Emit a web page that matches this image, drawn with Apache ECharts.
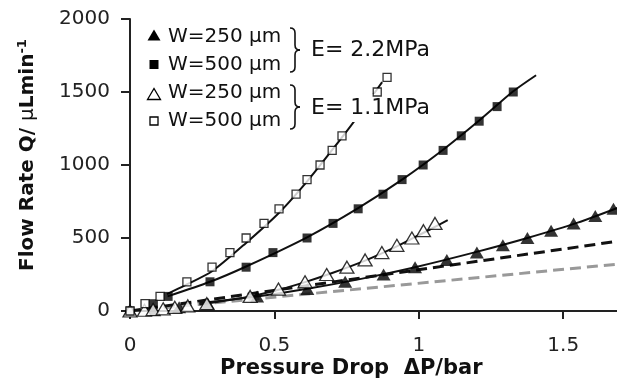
<!DOCTYPE html>
<html><head><meta charset="utf-8">
<script src="https://cdn.jsdelivr.net/npm/echarts@6/dist/echarts.min.js"></script>
<style>html,body{margin:0;padding:0;background:#fff}#c{width:617px;height:389px}</style>
</head><body><div id="c"></div>
<script>
// ---- data ----
// E = 2.2 MPa, W = 250 um (filled triangles)
const filledTriX = [0, 0.08, 0.17, 0.27, 0.44, 0.614, 0.745, 0.878, 0.987, 1.097, 1.201, 1.291, 1.376, 1.458, 1.536, 1.611, 1.674];
const filledTriY = [0, 10, 25, 50, 100, 150, 200, 250, 300, 350, 400, 450, 500, 550, 600, 650, 700];
// E = 2.2 MPa, W = 500 um (filled squares)
const filledSqX = [0, 0.081, 0.132, 0.277, 0.402, 0.495, 0.613, 0.703, 0.790, 0.876, 0.942, 1.015, 1.084, 1.147, 1.209, 1.271, 1.327];
const filledSqY = [0, 50, 100, 200, 300, 400, 500, 600, 700, 800, 900, 1000, 1100, 1200, 1300, 1400, 1500];
// E = 1.1 MPa, W = 250 um (open triangles)
const openTriX = [0, 0.05, 0.08, 0.115, 0.155, 0.2, 0.266, 0.416, 0.514, 0.606, 0.681, 0.751, 0.814, 0.872, 0.924, 0.976, 1.016, 1.056];
const openTriY = [0, 5, 10, 15, 25, 35, 50, 100, 150, 200, 250, 300, 350, 400, 450, 500, 550, 600];
// E = 1.1 MPa, W = 500 um (open squares)
const openSqX = [0, 0.052, 0.104, 0.197, 0.284, 0.346, 0.402, 0.464, 0.516, 0.575, 0.613, 0.658, 0.700, 0.734, 0.856, 0.890];
const openSqY = [0, 50, 100, 200, 300, 400, 500, 600, 700, 800, 900, 1000, 1100, 1200, 1500, 1600];

// fitted curves
const fitFilledTriX = [0.24, 0.44, 0.614, 0.8, 0.987, 1.2, 1.376, 1.55, 1.70];
const fitFilledTriY = [55, 100, 152, 220, 300, 405, 500, 605, 715];
const fitFilledSqX = [0.13, 0.277, 0.402, 0.613, 0.79, 0.942, 1.084, 1.209, 1.327, 1.406];
const fitFilledSqY = [100, 200, 305, 505, 705, 900, 1105, 1305, 1505, 1615];
const fitOpenTriX = [0.24, 0.416, 0.514, 0.606, 0.7, 0.814, 0.9, 0.976, 1.04, 1.1];
const fitOpenTriY = [45, 100, 145, 198, 260, 345, 420, 495, 560, 622];
const fitOpenSqX = [0.128, 0.19, 0.284, 0.40, 0.517, 0.617, 0.70, 0.769, 0.82, 0.873];
const fitOpenSqY = [116, 175, 272, 463, 675, 897, 1103, 1280, 1420, 1568];
// straight reference lines (dashed)
const dashBlackX = [0, 1.7];
const dashBlackY = [0, 481];
const dashGrayX = [0, 1.7];
const dashGrayY = [0, 323];

// text
const legendLabels = ['W=250 \u03bcm', 'W=500 \u03bcm', 'W=250 \u03bcm', 'W=500 \u03bcm'];
const groupLabels = ['E= 2.2MPa', 'E= 1.1MPa'];
const xTitle = 'Pressure Drop  \u0394P/bar';
const yTitleMain = 'Flow Rate Q/ ';
const yTitleMu = '\u03bc';
const yTitleUnit = 'Lmin';
const yTitleSup = '-1';

function pairs(xs, ys) { return xs.map((x, i) => [x, ys[i]]); }

const FONT = '"DejaVu Sans", "Liberation Sans", sans-serif';
const INK = '#111';

const chart = echarts.init(document.getElementById('c'), null, { renderer: 'canvas' });

function fitLine(xs, ys) {
  return {
    type: 'line', data: pairs(xs, ys), showSymbol: false, smooth: 0.25,
    lineStyle: { color: INK, width: 2 }, silent: true, z: 2
  };
}
function dashLine(xs, ys, color) {
  return {
    type: 'line', data: pairs(xs, ys), showSymbol: false,
    lineStyle: { color: color, width: 3, type: [11, 6] }, silent: true, z: 1
  };
}

// legend graphics
const rowsY = [37, 65, 93, 121];
const mx = 154;
function triPts(cx, cy, w, h) { return [[cx - w / 2, cy + h / 2], [cx + w / 2, cy + h / 2], [cx, cy - h / 2]]; }
function brace(x, y0, y1) {
  const ym = (y0 + y1) / 2, xm = x + 5, xt = x + 10;
  const st = { fill: null, stroke: INK, lineWidth: 1.6 };
  return [
    { type: 'bezierCurve', shape: { x1: x, y1: y0, cpx1: xm, cpy1: y0, x2: xm, y2: y0 + 5 }, style: st, z: 10 },
    { type: 'line', shape: { x1: xm, y1: y0 + 5, x2: xm, y2: ym - 5 }, style: st, z: 10 },
    { type: 'bezierCurve', shape: { x1: xm, y1: ym - 5, cpx1: xm, cpy1: ym, x2: xt, y2: ym }, style: st, z: 10 },
    { type: 'bezierCurve', shape: { x1: xt, y1: ym, cpx1: xm, cpy1: ym, x2: xm, y2: ym + 5 }, style: st, z: 10 },
    { type: 'line', shape: { x1: xm, y1: ym + 5, x2: xm, y2: y1 - 5 }, style: st, z: 10 },
    { type: 'bezierCurve', shape: { x1: xm, y1: y1 - 5, cpx1: xm, cpy1: y1, x2: x, y2: y1 }, style: st, z: 10 }
  ];
}

const graphics = [
  { type: 'polygon', shape: { points: triPts(mx, rowsY[0] - 2, 13, 11) }, style: { fill: '#000' }, z: 10 },
  { type: 'rect', shape: { x: mx - 4.5, y: rowsY[1] - 5, width: 9, height: 9 }, style: { fill: '#000' }, z: 10 },
  { type: 'polygon', shape: { points: triPts(mx, rowsY[2] + 1, 13, 11) }, style: { fill: '#fff', stroke: '#000', lineWidth: 1.3 }, z: 10 },
  { type: 'rect', shape: { x: mx - 4, y: rowsY[3] - 4, width: 8, height: 8 }, style: { fill: '#fff', stroke: '#000', lineWidth: 1.3 }, z: 10 },
  ...brace(290, 28, 72),
  ...brace(290, 85, 129),
  {
    type: 'text', x: 311, y: 50, z: 10,
    style: { text: groupLabels[0], fontSize: 22, fontFamily: FONT, fill: INK, align: 'left', verticalAlign: 'middle' }
  },
  {
    type: 'text', x: 309, y: 108, z: 3,
    style: { text: groupLabels[1], fontSize: 22, fontFamily: FONT, fill: INK, align: 'left', verticalAlign: 'middle',
      backgroundColor: '#fff', padding: [2, 2, 4, 2] }
  },
  {
    type: 'text', x: 220, y: 369, z: 10,
    style: { text: xTitle, fontSize: 21, fontWeight: 'bold', fontFamily: FONT, fill: INK, align: 'left', verticalAlign: 'middle' }
  },
  {
    type: 'text', x: 28, y: 155, rotation: Math.PI / 2, z: 10,
    style: {
      text: '{b|' + yTitleMain + '}{m|' + yTitleMu + '}{b|' + yTitleUnit + '}{s|' + yTitleSup + '}',
      align: 'center', verticalAlign: 'middle', fill: INK,
      rich: {
        b: { fontSize: 20, fontWeight: 'bold', fontFamily: FONT, fill: INK, lineHeight: 24 },
        m: { fontSize: 20, fontWeight: 'normal', fontFamily: FONT, fill: INK, lineHeight: 24 },
        s: { fontSize: 13, fontWeight: 'bold', fontFamily: FONT, fill: INK, lineHeight: 14, verticalAlign: 'top' }
      }
    }
  }
];
legendLabels.forEach((t, i) => {
  graphics.push({
    type: 'text', x: 168, y: rowsY[i], z: 10,
    style: { text: t, fontSize: 20, fontFamily: FONT, fill: INK, align: 'left', verticalAlign: 'middle' }
  });
});

const option = {
  backgroundColor: '#fff',
  animation: false,
  grid: { left: 130, top: 19, bottom: 78, right: -4, containLabel: false, outerBoundsMode: 'none' },
  xAxis: {
    type: 'value', min: 0, max: 1.7, interval: 0.5,
    axisLine: { show: true, onZero: false, lineStyle: { color: '#222', width: 2 } },
    axisTick: { show: true, length: 8, lineStyle: { color: '#222', width: 2 } },
    axisLabel: { margin: 25, fontSize: 20, fontFamily: FONT, color: '#222', showMaxLabel: false,
      formatter: v => String(v) },
    splitLine: { show: false }
  },
  yAxis: {
    type: 'value', min: 0, max: 2000, interval: 500,
    axisLine: { show: true, lineStyle: { color: '#222', width: 2 } },
    axisTick: { show: true, length: 9, lineStyle: { color: '#222', width: 2 } },
    axisLabel: { margin: 20, fontSize: 20, fontFamily: FONT, color: '#222', formatter: v => String(v) },
    splitLine: { show: false }
  },
  graphic: graphics,
  series: [
    dashLine(dashGrayX, dashGrayY, '#999'),
    dashLine(dashBlackX, dashBlackY, '#111'),
    fitLine(fitFilledTriX, fitFilledTriY),
    fitLine(fitFilledSqX, fitFilledSqY),
    fitLine(fitOpenTriX, fitOpenTriY),
    fitLine(fitOpenSqX, fitOpenSqY),
    { type: 'scatter', name: 'W=250 E=2.2', data: pairs(filledTriX, filledTriY), symbol: 'triangle', symbolSize: [14, 12],
      itemStyle: { color: '#000' }, z: 4 },
    { type: 'scatter', name: 'W=500 E=2.2', data: pairs(filledSqX, filledSqY), symbol: 'rect', symbolSize: 9,
      itemStyle: { color: '#000' }, z: 4 },
    { type: 'scatter', name: 'W=250 E=1.1', data: pairs(openTriX, openTriY), symbol: 'triangle', symbolSize: [14, 12],
      itemStyle: { color: '#fff', borderColor: '#000', borderWidth: 1.3 }, z: 5 },
    { type: 'scatter', name: 'W=500 E=1.1', data: pairs(openSqX, openSqY), symbol: 'rect', symbolSize: 8,
      itemStyle: { color: '#fff', borderColor: '#000', borderWidth: 1.3 }, z: 5 }
  ]
};
chart.setOption(option);
</script>
</body></html>
